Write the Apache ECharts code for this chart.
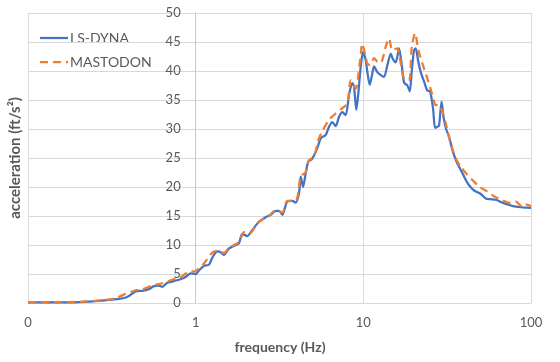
<!DOCTYPE html>
<html>
<head>
<meta charset="utf-8">
<script src="https://cdn.jsdelivr.net/npm/echarts@6/dist/echarts.min.js"></script>
<style>
html,body{margin:0;padding:0;background:#fff;}
#chart{width:560px;height:362px;}
</style>
</head>
<body>
<div id="chart"></div>
<script>
// Data
const seriesNames = ['LS-DYNA', 'MASTODON'];
const xTickValues = [0.1, 1, 10, 100];
const xTickLabels = ['0', '1', '10', '100'];

const lsdynaFreq = [0.1,0.153,0.201,0.265,0.349,0.384,0.409,0.439,0.480,0.526,0.564,0.604,0.632,0.677,0.725,0.795,0.872,0.934,1.0,1.046,1.121,1.20,1.256,1.316,1.377,1.475,1.580,1.733,1.813,1.897,2.032,2.177,2.386,2.617,2.802,3.001,3.141,3.287,3.520,3.771,3.951,4.134,4.232,4.368,4.533,4.697,4.94,5.316,5.569,5.967,6.243,6.531,6.844,7.161,7.493,7.852,8.216,8.597,8.799,9.083,9.337,9.65,9.96,10.33,10.56,10.92,11.32,11.58,12.12,12.70,13.29,13.91,14.58,15.04,15.61,16.33,16.95,17.49,18.30,18.92,19.45,20.07,20.54,21.20,22.00,23.02,24.09,25.00,26.06,26.78,27.64,28.29,29.28,30.10,31.15,32.45,33.96,35.59,37.24,38.96,40.83,42.72,45.77,50.17,53.75,57.56,61.66,67.51,74.01,81.16,88.85,100];
const lsdynaAccel = [0.1,0.1,0.15,0.35,0.7,0.95,1.4,2.0,2.1,2.4,2.9,3.0,2.8,3.5,3.7,4.0,4.5,5.1,5.0,5.6,6.4,6.6,7.8,8.7,8.9,8.3,9.4,10.0,10.3,11.9,11.55,12.6,14.0,14.8,15.2,15.9,15.9,15.2,17.5,17.6,17.3,18.9,21.8,20.0,22.4,24.4,24.8,26.7,28.4,29.0,30.4,31.2,30.5,32.1,32.9,32.4,35.9,37.9,37.3,33.3,36.2,40.8,43.3,41.9,39.9,37.6,39.6,40.8,39.8,39.3,39.0,41.0,43.0,42.0,41.5,43.9,41.0,38.0,37.5,36.5,40.0,43.6,43.9,41.8,39.8,38.2,36.6,36.5,33.5,30.2,30.4,30.6,34.7,32.0,30.0,28.7,26.4,24.7,23.5,22.4,21.2,20.3,19.4,18.8,18.0,17.9,17.8,17.3,16.9,16.6,16.5,16.4];

const mastodonFreq = [0.1,0.153,0.201,0.276,0.3346,0.384,0.439,0.480,0.5486,0.632,0.725,0.795,0.912,1.0,1.046,1.121,1.256,1.377,1.475,1.580,1.813,1.942,2.080,2.386,2.738,3.001,3.287,3.520,3.951,4.232,4.533,4.743,5.081,5.441,6.243,7.331,8.026,8.41,9.009,9.517,9.863,10.23,10.56,10.96,11.58,12.12,12.70,13.60,14.24,14.89,15.96,16.72,17.49,18.74,19.45,20.35,21.29,22.49,24.09,25.80,27.04,28.29,29.60,31.01,32.45,33.96,35.59,38.11,40.83,44.72,49.01,54.95,60.25,67.51,75.76,81.16,88.85,93.1,100];
const mastodonAccel = [0.1,0.12,0.2,0.45,0.85,1.6,2.2,2.35,3.0,3.4,4.0,4.3,5.4,5.5,6.0,6.8,8.7,9.0,8.6,9.5,10.5,12.2,11.9,14.0,15.0,16.0,15.6,17.6,17.6,21.8,22.6,24.6,25.3,28.4,31.6,33.4,34.4,38.4,37.0,41.3,44.7,43.0,41.3,41.0,42.2,41.6,41.4,44.2,45.6,43.6,43.9,41.3,38.7,38.4,44.2,46.5,43.6,41.3,38.7,35.9,34.1,34.1,33.0,31.0,28.5,26.6,24.9,23.5,22.4,21.2,20.1,19.2,18.4,17.7,17.2,17.5,16.6,17.0,16.7];

const yMin = 0, yMax = 50, yStep = 5;
const xAxisTitle = 'frequency (Hz)';
const yAxisTitle = 'acceleration (ft/s\u00B2)';

function pairs(xs, ys){ return xs.map((x,i)=>[x, ys[i]]); }

const chart = echarts.init(document.getElementById('chart'), null, {renderer:'canvas'});
const FONT = 'Lato, "Liberation Sans", sans-serif';
const TXT = '#595959';
const BLUE = '#4472C4', ORANGE = '#ED7D31';
const gridLeft = 28, gridRight = 29, gridTop = 13, gridBottom = 59;
const plotW = 560 - gridLeft - gridRight;
const yAxisOffset = -plotW / 3; // y axis crosses the x axis at 1

chart.setOption({
  animation: false,
  backgroundColor: '#ffffff',
  grid: {left: gridLeft, right: gridRight, top: gridTop, bottom: gridBottom, containLabel: false},
  xAxis: {
    type: 'log', logBase: 10, min: 0.1, max: 100,
    axisLine: {show: true, onZero: false, lineStyle: {color: '#d9d9d9', width: 1}},
    axisTick: {show: false},
    splitLine: {show: true, lineStyle: {color: '#d9d9d9', width: 1}},
    axisLabel: {
      fontFamily: FONT, fontSize: 13, color: TXT, margin: 13, showMinLabel: true, showMaxLabel: true,
      formatter: function(v){
        for (let i = 0; i < xTickValues.length; i++) {
          if (Math.abs(Math.log10(v) - Math.log10(xTickValues[i])) < 1e-6) return xTickLabels[i];
        }
        return '';
      }
    }
  },
  yAxis: {
    type: 'value', min: yMin, max: yMax, interval: yStep, position: 'left', offset: yAxisOffset,
    axisLine: {show: true, lineStyle: {color: '#c8c8c8', width: 1}},
    axisTick: {show: false},
    splitLine: {show: true, lineStyle: {color: '#d9d9d9', width: 1}},
    axisLabel: {fontFamily: FONT, fontSize: 13, color: TXT, margin: 15}
  },
  graphic: [
    {type: 'text', left: 'center', top: 340, style: {text: xAxisTitle, font: 'bold 14px ' + FONT, fill: TXT}},
    {type: 'text', x: 15, y: 158, rotation: Math.PI/2,
     style: {text: yAxisTitle, font: 'bold 15px ' + FONT, fill: TXT, align: 'center', verticalAlign: 'middle'}},
    // legend
    {type: 'line', shape: {x1: 40, y1: 38, x2: 68, y2: 38}, style: {stroke: BLUE, lineWidth: 2.25}},
    {type: 'text', x: 70, y: 38, style: {text: seriesNames[0], font: '14px ' + FONT, fill: TXT, verticalAlign: 'middle'}},
    {type: 'line', shape: {x1: 40, y1: 62, x2: 68, y2: 62}, style: {stroke: ORANGE, lineWidth: 2.25, lineDash: [8, 5]}},
    {type: 'text', x: 70, y: 62, style: {text: seriesNames[1], font: '14px ' + FONT, fill: TXT, verticalAlign: 'middle'}}
  ],
  series: [
    {name: seriesNames[0], type: 'line', data: pairs(lsdynaFreq, lsdynaAccel), showSymbol: false, symbol: 'none',
     smooth: 0.25, lineStyle: {color: BLUE, width: 2.25}, itemStyle: {color: BLUE}, z: 2},
    {name: seriesNames[1], type: 'line', data: pairs(mastodonFreq, mastodonAccel), showSymbol: false, symbol: 'none',
     smooth: 0.25, lineStyle: {color: ORANGE, width: 2.25, type: [8, 5]}, itemStyle: {color: ORANGE}, z: 3}
  ]
});
</script>
</body>
</html>
